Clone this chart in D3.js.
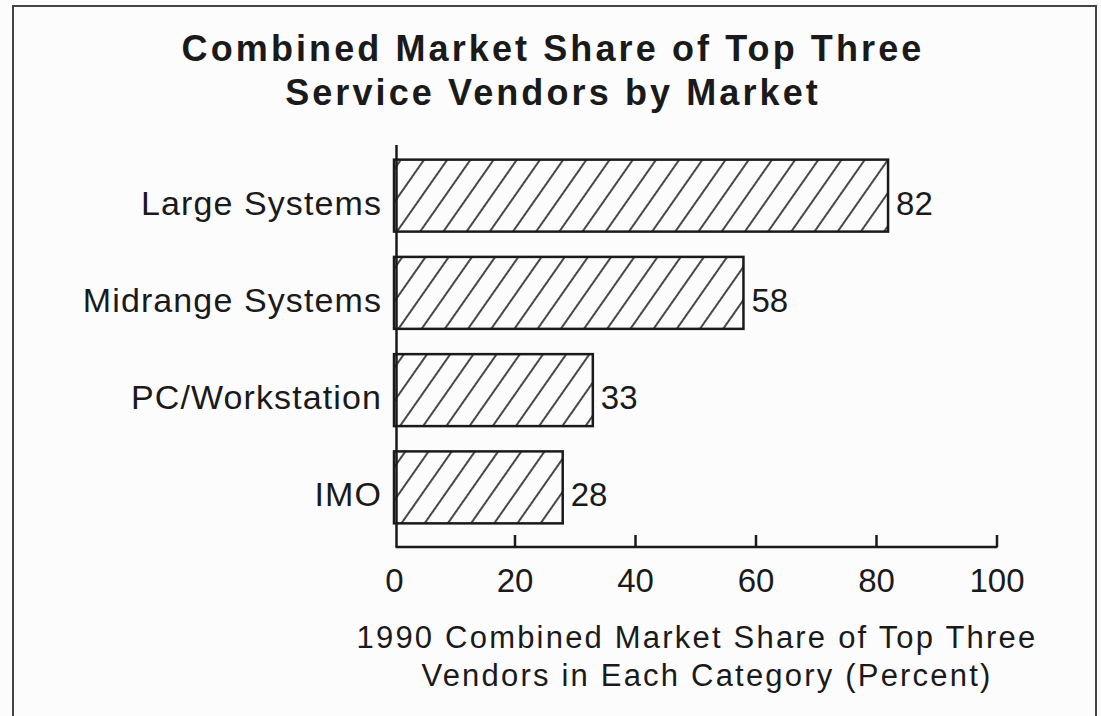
<!DOCTYPE html>
<html>
<head>
<meta charset="utf-8">
<script src="https://cdn.jsdelivr.net/npm/d3@7"></script>
<style>
  html, body { margin: 0; padding: 0; background: #fdfcfd; }
  svg { display: block; }
  text { font-family: "Liberation Sans", Arial, Helvetica, sans-serif; fill: #1a1a1a; }
</style>
</head>
<body>
<svg id="chart" width="1101" height="716"></svg>
<script>
// Chart data
const categories = ["Large Systems", "Midrange Systems", "PC/Workstation", "IMO"];
const shares = [82, 58, 33, 28];
const xTicks = [0, 20, 40, 60, 80, 100];
const titleLines = ["Combined Market Share of Top Three", "Service Vendors by Market"];
const axisTitleLines = ["1990 Combined Market Share of Top Three", "Vendors in Each Category (Percent)"];

const svg = d3.select("#chart");
const ink = "#1a1a1a";

// Hatch fill for the bars
const defs = svg.append("defs");
const hatch = defs.append("pattern")
  .attr("id", "hatch")
  .attr("patternUnits", "userSpaceOnUse")
  .attr("width", 19)
  .attr("height", 19)
  .attr("patternTransform", "rotate(35)");
hatch.append("line")
  .attr("x1", 2).attr("y1", -2).attr("x2", 2).attr("y2", 21)
  .attr("stroke", ink).attr("stroke-width", 1.6);

// Frame around the figure
svg.append("rect")
  .attr("x", 13).attr("y", 6)
  .attr("width", 1083).attr("height", 740)
  .attr("fill", "none")
  .attr("stroke", "#444")
  .attr("stroke-width", 2);

// Scales
const x = d3.scaleLinear().domain([0, 100]).range([394, 996.5]);
const y = d3.scaleBand().domain(categories).range([147, 536])
  .paddingInner(0.26).paddingOuter(0.13);
const axisY = 547;

// Title (wide tracking, as in the original typesetting)
svg.append("text")
  .attr("text-anchor", "middle")
  .attr("font-size", 36)
  .attr("font-weight", "bold")
  .attr("letter-spacing", 3.1)
  .selectAll("tspan")
  .data(titleLines)
  .join("tspan")
  .attr("x", 553)
  .attr("y", (d, i) => 61 + i * 44)
  .text(d => d);

// Bars
const data = categories.map((c, i) => ({ cat: c, v: shares[i] }));
svg.append("g")
  .selectAll("rect")
  .data(data)
  .join("rect")
  .attr("x", x(0))
  .attr("y", d => y(d.cat))
  .attr("width", d => x(d.v) - x(0))
  .attr("height", y.bandwidth())
  .attr("fill", "url(#hatch)")
  .attr("stroke", ink)
  .attr("stroke-width", 2.5);

// Value labels
svg.append("g")
  .selectAll("text")
  .data(data)
  .join("text")
  .attr("x", d => x(d.v) + 8)
  .attr("y", d => y(d.cat) + y.bandwidth() / 2 + 19)
  .attr("font-size", 33)
  .text(d => d.v);

// Category labels
svg.append("g")
  .selectAll("text")
  .data(categories)
  .join("text")
  .attr("x", 382)
  .attr("y", d => y(d) + y.bandwidth() / 2 + 19)
  .attr("text-anchor", "end")
  .attr("font-size", 34)
  .attr("letter-spacing", 1.1)
  .text(d => d);

// Vertical axis line
svg.append("line")
  .attr("x1", x(0) + 2.5).attr("x2", x(0) + 2.5)
  .attr("y1", 145).attr("y2", axisY)
  .attr("stroke", ink).attr("stroke-width", 2.5);

// Horizontal axis with inward ticks
const xAxis = d3.axisBottom(x)
  .tickValues(xTicks)
  .tickSizeInner(-12)
  .tickSizeOuter(0)
  .tickPadding(22)
  .tickFormat(d3.format("d"));
const gx = svg.append("g")
  .attr("transform", `translate(0,${axisY})`)
  .call(xAxis);
gx.select(".domain").attr("stroke", ink).attr("stroke-width", 2.5)
  .attr("d", `M${x(0) + 1.5},0H${x(100) + 1}`);
gx.selectAll(".tick line").attr("stroke", ink).attr("stroke-width", 2.5);
gx.selectAll(".tick").filter(d => d === 0).select("line").remove();
gx.selectAll(".tick text")
  .attr("font-size", 33)
  .attr("font-family", "\"Liberation Sans\", Arial, sans-serif")
  .attr("fill", ink)
  .attr("dy", "0.71em")
  .attr("y", 22);

// Axis title
const axisTitleX = [697, 707];
svg.append("text")
  .attr("text-anchor", "middle")
  .attr("font-size", 31)
  .attr("letter-spacing", 2.2)
  .selectAll("tspan")
  .data(axisTitleLines)
  .join("tspan")
  .attr("x", (d, i) => axisTitleX[i])
  .attr("y", (d, i) => 648 + i * 38)
  .text(d => d);
</script>
</body>
</html>
